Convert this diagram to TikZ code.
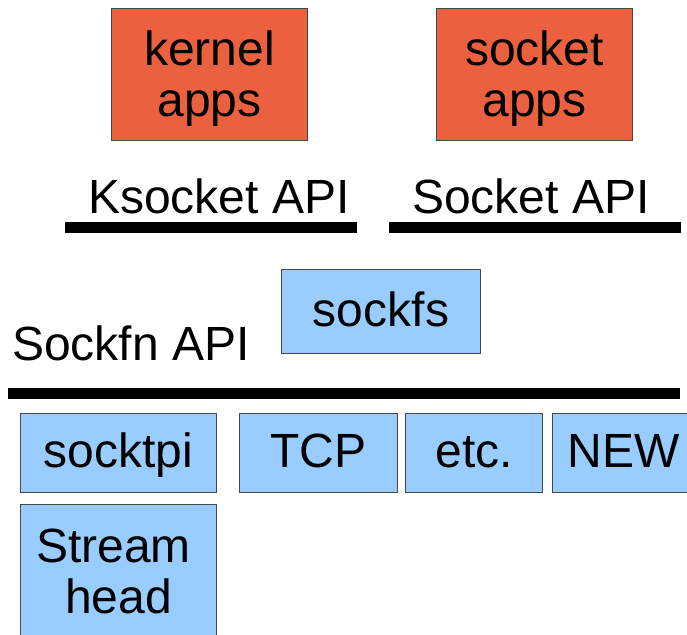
\documentclass[tikz,border=0pt]{standalone}
\usepackage{fontspec}
\setmainfont{Liberation Sans}
\definecolor{appred}{RGB}{235,97,64}
\definecolor{modblue}{RGB}{153,204,255}
\definecolor{edge}{RGB}{70,70,70}
\newcommand{\topstrut}{\rule{0pt}{43pt}}
\begin{document}
\begin{tikzpicture}[x=1pt,y=-1pt,
  lbl/.style={font=\fontsize{48}{51}\selectfont},
  box/.style={draw=edge, line width=1pt, inner sep=0pt, lbl,
    text height=36pt, text depth=7pt, anchor=north west},
  appbox/.style={box, fill=appred, align=center, text height=, text depth=},
  modbox/.style={box, fill=modblue},
  apilabel/.style={lbl, inner sep=0pt, anchor=base west},
  bar/.style={line width=11pt}]
\useasboundingbox (0,0) rectangle (687,634);
\begin{scope}
\clip (0,0) rectangle (687,634);

% applications
\node[appbox, minimum width=196pt, minimum height=132pt] (kapps) at (111,8) {\topstrut kernel\\apps};
\node[appbox, minimum width=196pt, minimum height=132pt] (sapps) at (436,8) {\topstrut socket\\apps};

% API labels and bars
\node[apilabel] (kapi) at (88,213) {Ksocket API};
\node[apilabel] (sapi) at (412,213) {Socket API};
\node[apilabel] (fnapi) at (12,360) {Sockfn API};

\coordinate (kbarL) at (65,227.5);  \coordinate (kbarR) at (357,227.5);
\coordinate (sbarL) at (389,227.5); \coordinate (sbarR) at (681,227.5);
\coordinate (fbarL) at (8,393.5);   \coordinate (fbarR) at (680,393.5);
\draw[bar] (kbarL) -- (kbarR);
\draw[bar] (sbarL) -- (sbarR);
\draw[bar] (fbarL) -- (fbarR);

% socket filesystem
\node[modbox, minimum width=199pt, minimum height=84pt] (sockfs) at (281,269) {sockfs};

% modules below the Sockfn API
\node[modbox, minimum width=196pt, minimum height=79pt] (socktpi) at (20,413) {socktpi};
\node[modbox, minimum width=158pt, minimum height=79pt] (tcp) at (239,413) {TCP};
\node[modbox, minimum width=137pt, minimum height=79pt] (etc) at (405,413) {etc.};
\node[modbox, minimum width=142pt, minimum height=79pt] (new) at (552,413) {NEW};
\node[modbox, align=center, text height=, text depth=, minimum width=196pt, minimum height=134pt] (shead) at (20,504) {Stream\kern10pt\\head};
\end{scope}
\end{tikzpicture}
\end{document}
